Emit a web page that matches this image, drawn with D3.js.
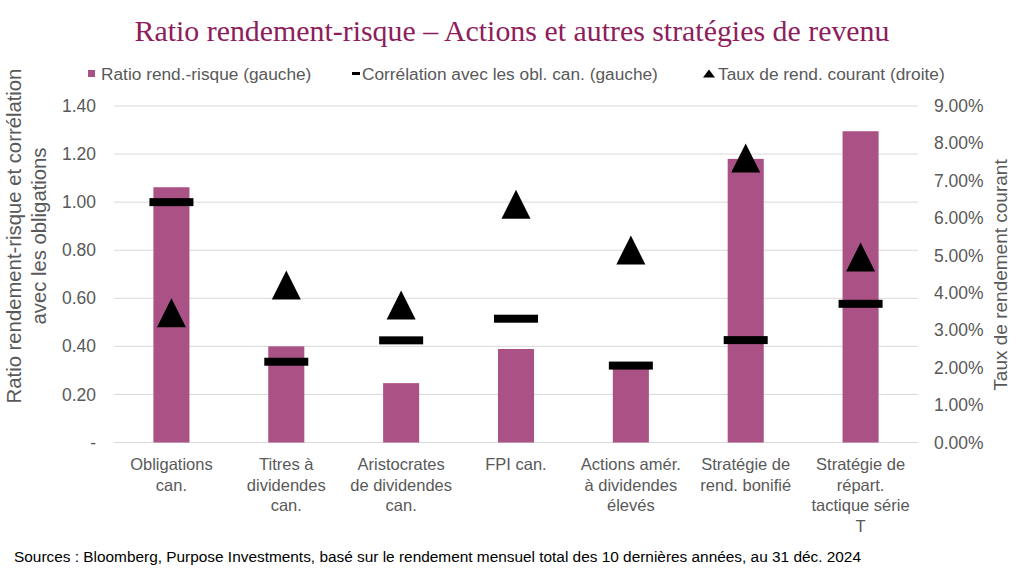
<!DOCTYPE html>
<html><head><meta charset="utf-8">
<script src="https://cdn.jsdelivr.net/npm/d3@7"></script>
<style>body{margin:0;background:#fff;} svg{display:block;}</style>
</head><body>
<svg id="c" width="1024" height="583"></svg>
<script>
const categories = [
  ["Obligations","can."],
  ["Titres à","dividendes","can."],
  ["Aristocrates","de dividendes","can."],
  ["FPI can."],
  ["Actions amér.","à dividendes","élevés"],
  ["Stratégie de","rend. bonifié"],
  ["Stratégie de","répart.","tactique série","T"]
];
const ratio = [1.062, 0.40, 0.247, 0.389, 0.31, 1.18, 1.295];
const correlation = [1.00, 0.336, 0.425, 0.515, 0.32, 0.426, 0.577];
const yieldPct = [3.47, 4.21, 3.68, 6.37, 5.15, 7.61, 4.96];
const leftTicks = [0, 0.2, 0.4, 0.6, 0.8, 1.0, 1.2, 1.4];
const rightTicks = [0,1,2,3,4,5,6,7,8,9];
const legendLabels = ["Ratio rend.-risque (gauche)", "Corrélation avec les obl. can. (gauche)", "Taux de rend. courant (droite)"];
const titleText = "Ratio rendement-risque – Actions et autres stratégies de revenu";
const leftTitle = ["Ratio rendement-risque et corrélation","avec les obligations"];
const rightTitle = "Taux de rendement courant";
const sourceText = "Sources : Bloomberg, Purpose Investments, basé sur le rendement mensuel total des 10 dernières années, au 31 déc. 2024";

const svg = d3.select("#c");
const M = {left:114, right:918, top:106, bottom:442.5};
const x = d3.scaleBand().domain(d3.range(categories.length)).range([M.left, M.right]).paddingInner(0.686).paddingOuter(0.343);
const yL = d3.scaleLinear().domain([0,1.4]).range([M.bottom, M.top]);
const yR = d3.scaleLinear().domain([0,9]).range([M.bottom, M.top]);
const barColor = "#aa5285";
const axisColor = "#595959";
const font = "'Liberation Sans', Arial, sans-serif";

// title
svg.append("text").attr("x",512).attr("y",41).attr("text-anchor","middle")
  .attr("font-family","'Liberation Serif', 'Times New Roman', serif").attr("font-size",29)
  .attr("textLength",755).attr("lengthAdjust","spacingAndGlyphs")
  .attr("fill","#8e1d5c").text(titleText);

// gridlines
svg.append("g").selectAll("line").data(leftTicks).join("line")
  .attr("x1",M.left).attr("x2",M.right).attr("y1",d=>yL(d)).attr("y2",d=>yL(d))
  .attr("stroke","#d9d9d9").attr("stroke-width",1);

// left axis labels
const gl = svg.append("g").attr("transform",`translate(${M.left},0)`)
  .call(d3.axisLeft(yL).tickValues(leftTicks).tickSize(0).tickPadding(18).tickFormat(d=> d===0 ? "-" : d3.format(".2f")(d)));
gl.select(".domain").remove();
gl.selectAll("text").attr("font-family",font).attr("font-size",17.5).attr("fill",axisColor);

// right axis labels
const gr = svg.append("g").attr("transform",`translate(${M.right},0)`)
  .call(d3.axisRight(yR).tickValues(rightTicks).tickSize(0).tickPadding(16).tickFormat(d=>d3.format(".2f")(d)+"%"));
gr.select(".domain").remove();
gr.selectAll("text").attr("font-family",font).attr("font-size",17.5).attr("fill",axisColor);

// bars
svg.append("g").selectAll("rect").data(ratio).join("rect")
  .attr("x",(d,i)=>x(i)).attr("width",x.bandwidth())
  .attr("y",d=>yL(d)).attr("height",d=>yL(0)-yL(d)).attr("fill",barColor);

// correlation dashes
const dashW = 44, dashH = 8;
svg.append("g").selectAll("rect").data(correlation).join("rect")
  .attr("x",(d,i)=>x(i)+x.bandwidth()/2-dashW/2).attr("width",dashW)
  .attr("y",d=>yL(d)-dashH/2).attr("height",dashH).attr("fill","#000");

// triangles
const tw = 29, th = 29;
svg.append("g").selectAll("path").data(yieldPct).join("path")
  .attr("d",(d,i)=>{const cx=x(i)+x.bandwidth()/2, cy=yR(d); return `M${cx},${cy-th/2}L${cx+tw/2},${cy+th/2}L${cx-tw/2},${cy+th/2}Z`;})
  .attr("fill","#000");

// category labels
const cl = svg.append("g").selectAll("text").data(categories).join("text")
  .attr("text-anchor","middle").attr("font-family",font).attr("font-size",16.5).attr("fill",axisColor);
cl.each(function(lines,i){
  d3.select(this).selectAll("tspan").data(lines).join("tspan")
    .attr("x",x(i)+x.bandwidth()/2).attr("y",(d,j)=>470+j*20.7).text(d=>d);
});

// axis titles
svg.append("text").attr("transform","translate(21,236) rotate(-90)").attr("text-anchor","middle")
  .attr("font-family",font).attr("font-size",20.3).attr("fill",axisColor)
  .selectAll("tspan").data(leftTitle).join("tspan").attr("x",0).attr("dy",(d,i)=>i===0?0:25).text(d=>d);
svg.append("text").attr("transform","translate(1007,275) rotate(-90)").attr("text-anchor","middle")
  .attr("font-family",font).attr("font-size",19).attr("fill",axisColor).text(rightTitle);

// legend
const lg = svg.append("g").attr("font-family",font).attr("font-size",17.3).attr("fill",axisColor);
lg.append("rect").attr("x",88).attr("y",70).attr("width",7).attr("height",7).attr("fill",barColor);
lg.append("text").attr("x",101).attr("y",80).text(legendLabels[0]);
lg.append("rect").attr("x",352).attr("y",72).attr("width",8).attr("height",3).attr("fill","#000");
lg.append("text").attr("x",362).attr("y",80).text(legendLabels[1]);
lg.append("path").attr("d","M709,69.5L715,77.5L703,77.5Z").attr("fill","#000");
lg.append("text").attr("x",718).attr("y",80).text(legendLabels[2]);

// source
svg.append("text").attr("x",14).attr("y",562).attr("font-family",font).attr("font-size",15.4).attr("fill","#000").text(sourceText);
</script>
</body></html>
